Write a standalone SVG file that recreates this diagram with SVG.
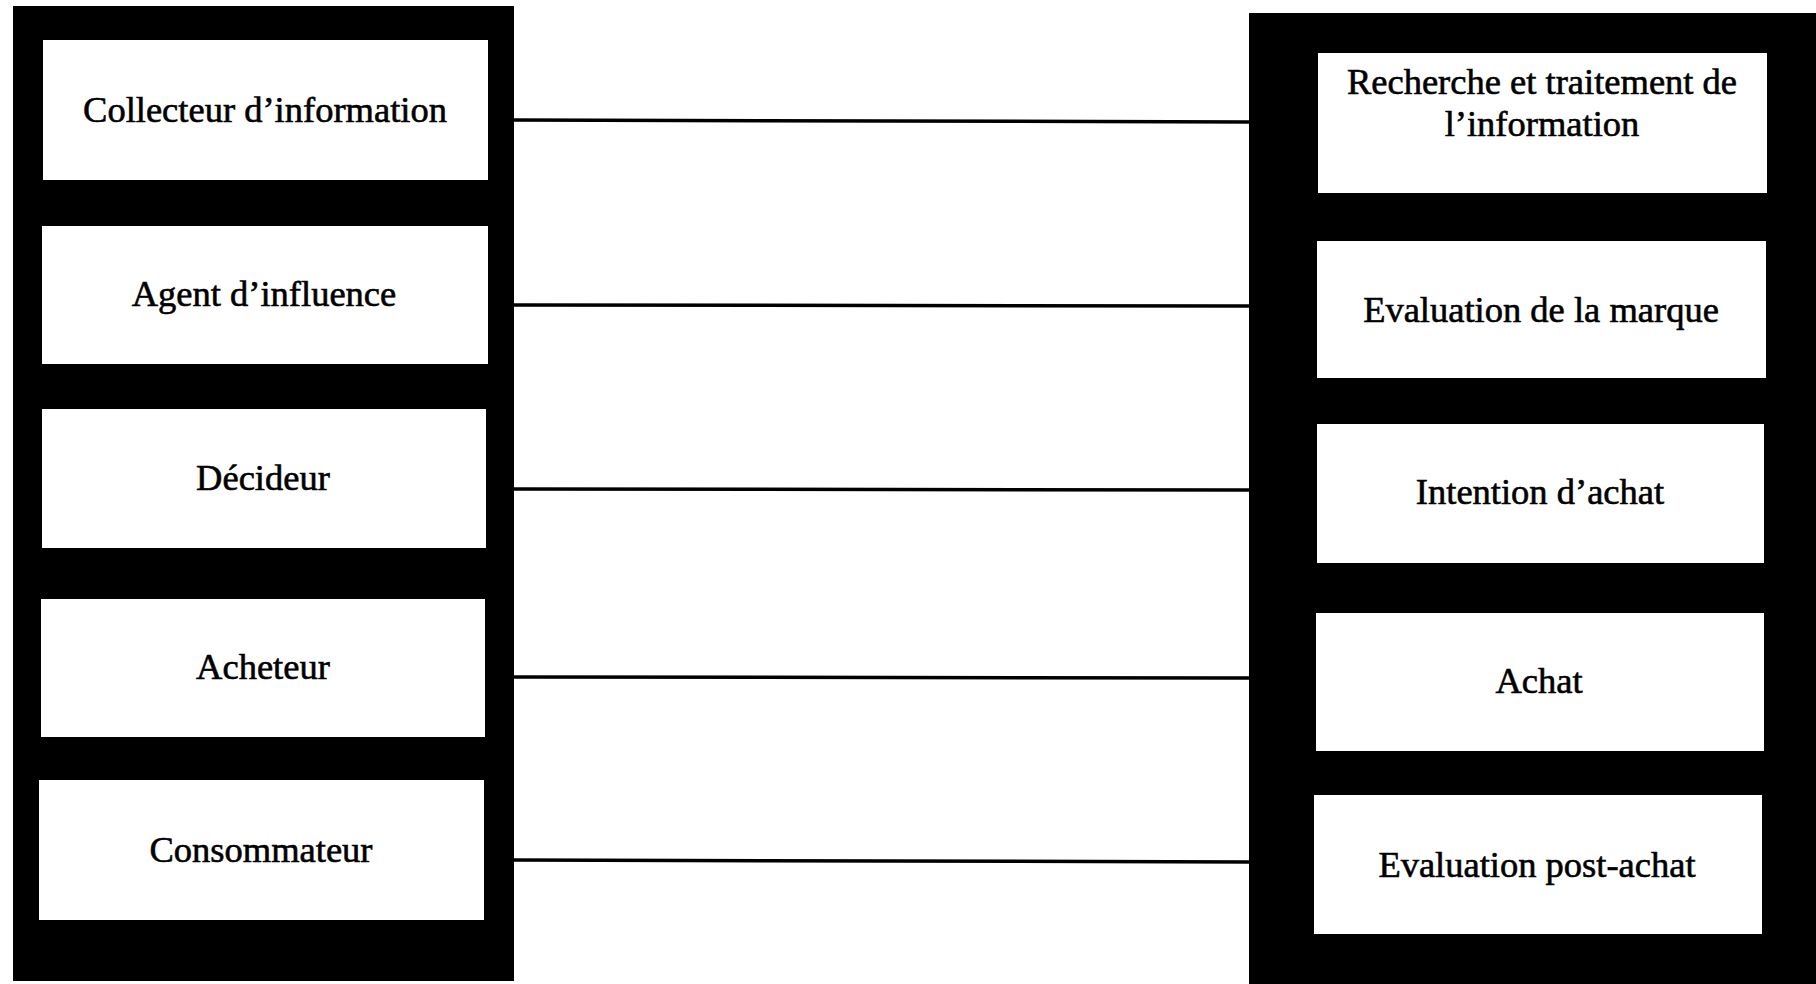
<svg xmlns="http://www.w3.org/2000/svg" width="1816" height="984" viewBox="0 0 1816 984">
<style>
.panel{fill:#000}
.box{fill:#fff}
.lbl{font-family:"Liberation Serif","Times New Roman",serif;font-size:36.5px;fill:#000;stroke:#000;stroke-width:0.6px;text-anchor:middle}
.conn{stroke:#000;stroke-width:3.5;fill:none}
</style>
<rect width="1816" height="984" fill="#fff"/>
<g id="panel-left"><rect class="panel" x="13" y="6" width="501" height="975"/></g>
<g id="panel-right"><rect class="panel" x="1249" y="13" width="567" height="971"/></g>
<g id="connectors">
<line class="conn" x1="514" y1="120" x2="1249" y2="122"/>
<line class="conn" x1="514" y1="305" x2="1249" y2="306"/>
<line class="conn" x1="514" y1="489" x2="1249" y2="490"/>
<line class="conn" x1="514" y1="677" x2="1249" y2="678"/>
<line class="conn" x1="514" y1="860" x2="1249" y2="862"/>
</g>
<g id="n-collecteur"><rect class="box" x="43" y="40" width="445" height="140"/><text class="lbl" x="265" y="122">Collecteur d’information</text></g>
<g id="n-agent"><rect class="box" x="42" y="226" width="446" height="138"/><text class="lbl" x="264" y="306">Agent d’influence</text></g>
<g id="n-decideur"><rect class="box" x="42" y="409" width="444" height="139"/><text class="lbl" x="263" y="490">Décideur</text></g>
<g id="n-acheteur"><rect class="box" x="41" y="599" width="444" height="138"/><text class="lbl" x="263" y="679">Acheteur</text></g>
<g id="n-consommateur"><rect class="box" x="39" y="780" width="445" height="140"/><text class="lbl" x="261" y="862">Consommateur</text></g>
<g id="n-recherche"><rect class="box" x="1318" y="53" width="449" height="140"/><text class="lbl" x="1542" y="94">Recherche et traitement de</text><text class="lbl" x="1542" y="136">l’information</text></g>
<g id="n-evaluation-marque"><rect class="box" x="1317" y="241" width="449" height="137"/><text class="lbl" x="1541" y="322">Evaluation de la marque</text></g>
<g id="n-intention"><rect class="box" x="1317" y="424" width="447" height="139"/><text class="lbl" x="1540" y="504">Intention d’achat</text></g>
<g id="n-achat"><rect class="box" x="1316" y="613" width="448" height="138"/><text class="lbl" x="1539" y="693">Achat</text></g>
<g id="n-post-achat"><rect class="box" x="1314" y="795" width="448" height="139"/><text class="lbl" x="1537" y="877">Evaluation post-achat</text></g>
</svg>
